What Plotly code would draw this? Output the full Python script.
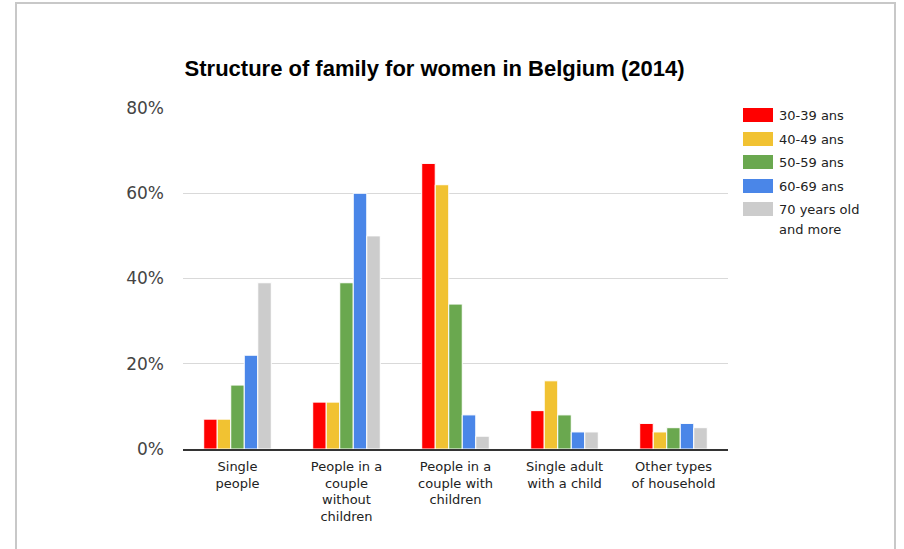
import plotly.graph_objects as go

categories = ["Single<br>people", "People in a<br>couple<br>without<br>children",
              "People in a<br>couple with<br>children", "Single adult<br>with a child",
              "Other types<br>of household"]
series_names = ["30-39 ans", "40-49 ans", "50-59 ans", "60-69 ans", "70 years old<br>and more"]
colors = ["#ff0000", "#f1c232", "#6aa84f", "#4a86e8", "#cccccc"]
values_30_39 = [7, 11, 67, 9, 6]
values_40_49 = [7, 11, 62, 16, 4]
values_50_59 = [15, 39, 34, 8, 5]
values_60_69 = [22, 60, 8, 4, 6]
values_70_plus = [39, 50, 3, 4, 5]
series_values = [values_30_39, values_40_49, values_50_59, values_60_69, values_70_plus]
y_ticks = [0, 20, 40, 60, 80]
y_tick_labels = ["0%", "20%", "40%", "60%", "80%"]

W, H = 904, 549
L, R, T, B = 183, 728, 108, 449
pw, ph = R - L, B - T

def px(x):
    return (x - L) / pw

def py(y):
    return (B - y) / ph

fig = go.Figure()
for name, vals, col in zip(series_names, series_values, colors):
    fig.add_trace(go.Bar(x=categories, y=vals, name=name, marker_color=col,
                         marker_line_color="white", marker_line_width=1,
                         showlegend=False, hoverinfo="skip"))

shapes = []
annotations = []
# outer frame
shapes.append(dict(type="rect", xref="paper", yref="paper",
                   x0=px(16), x1=px(895), y0=py(560), y1=py(3),
                   line=dict(color="#c8c8c8", width=2), fillcolor="rgba(0,0,0,0)", layer="below"))
# custom legend
legend_y = [115, 139, 162, 186, 209]
for i, (name, col) in enumerate(zip(series_names, colors)):
    yc = legend_y[i]
    shapes.append(dict(type="rect", xref="paper", yref="paper",
                       x0=px(743), x1=px(773), y0=py(yc + 7), y1=py(yc - 7),
                       fillcolor=col, line=dict(width=0)))
    for j, line in enumerate(name.split("<br>")):
        annotations.append(dict(xref="paper", yref="paper", x=px(777), y=py(yc + 20 * j),
                                text=line, showarrow=False, xanchor="left", yanchor="middle",
                                align="left",
                                font=dict(family="DejaVu Sans", size=13, color="#222222")))

fig.update_layout(
    width=W, height=H,
    margin=dict(l=L, r=W - R, t=T, b=H - B, pad=0),
    paper_bgcolor="white", plot_bgcolor="white",
    barmode="group", bargap=0.38, bargroupgap=0.0,
    title=dict(text="<b>Structure of family for women in Belgium (2014)</b>",
               x=px(445), xanchor="center", y=1 - 68 / H, yanchor="middle",
               font=dict(family="Liberation Sans, Arial", size=22, color="#000000")),
    xaxis=dict(showline=True, linecolor="#333333", linewidth=2, ticks="",
               ticklabelstandoff=4,
               tickfont=dict(family="DejaVu Sans", size=13, color="#222222"),
               showgrid=False),
    yaxis=dict(range=[0, 80], tickvals=y_ticks, ticktext=y_tick_labels,
               gridcolor="#d9d9d9", gridwidth=1, zeroline=False, showline=False,
               ticklabelstandoff=18,
               tickfont=dict(family="DejaVu Sans", size=17, color="#444444")),
    shapes=shapes, annotations=annotations,
)

fig.write_html("out.html", config={"displayModeBar": False},
               post_script="document.body.style.margin='0';document.body.style.overflow='hidden';")
